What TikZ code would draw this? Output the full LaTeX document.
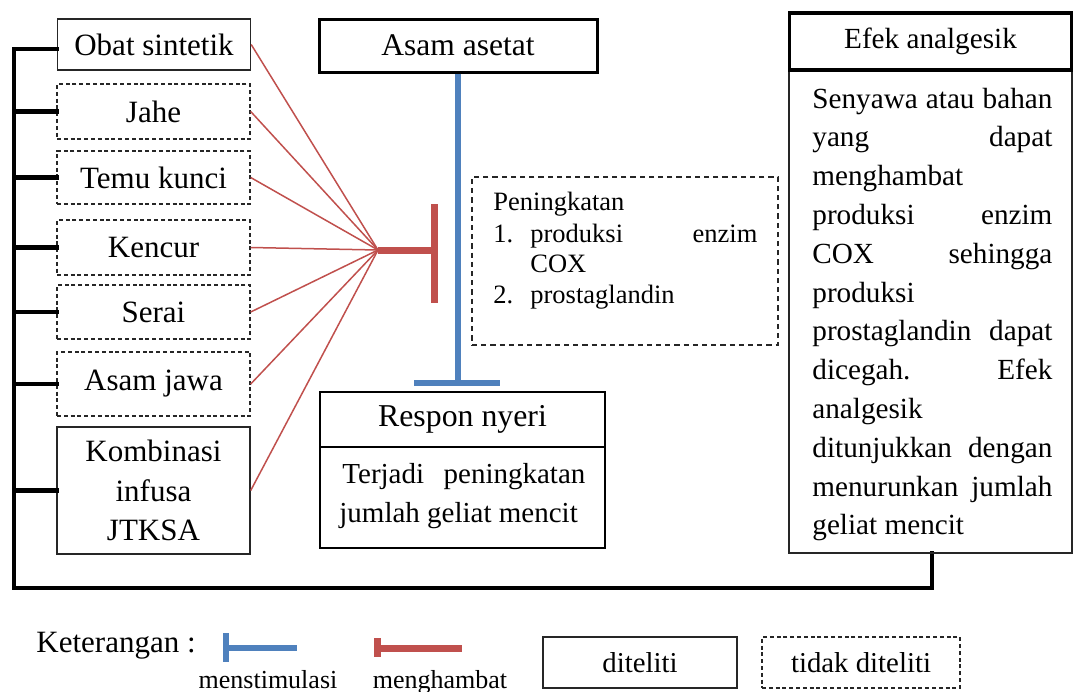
\documentclass[tikz,border=0pt]{standalone}
\usepackage{fontspec}
\setmainfont{Liberation Serif}
\definecolor{inhred}{HTML}{C0504D}
\definecolor{stimblue}{HTML}{4F81BD}
\begin{document}
\begin{tikzpicture}[x=0.5pt,y=-0.5pt,
  thinbox/.style={draw=black!85, line width=0.7pt, inner sep=0pt, minimum width=96.5pt,
    font=\fontsize{15.5}{19.75}\selectfont, align=center},
  dashbox/.style={thinbox, dash pattern=on 2pt off 1.4pt},
  headbox/.style={draw=black, inner sep=0pt, fill=white},
  txt/.style={inner sep=0pt, anchor=base west},
  bus/.style={draw=black, line width=2.2pt, line join=miter, line cap=rect},
  inhline/.style={draw=inhred, line width=0.75pt},
  inhthick/.style={draw=inhred, line width=3.5pt},
  stimthick/.style={draw=stimblue, line width=2.6pt}
]
\useasboundingbox (0,0) rectangle (1074,691);

% left boxes
\node[thinbox, minimum height=25.5pt] (obat) at (154,44.5) {Obat sintetik};
\node[dashbox, minimum height=27.5pt] (jahe) at (153.5,111.5) {Jahe};
\node[dashbox, minimum height=26.5pt] (temu) at (153.5,177.5) {Temu kunci};
\node[dashbox, minimum height=27.5pt] (kencur) at (153.5,247.5) {Kencur};
\node[dashbox, minimum height=27pt] (serai) at (153.5,312) {Serai};
\node[dashbox, minimum height=32pt] (asamjawa) at (153.5,384) {Asam jawa};
\node[thinbox, minimum height=63.5pt] (kombinasi) at (153.5,490.5) {Kombinasi\\infusa\\JTKSA};

% bus
\coordinate (busbot) at (14,588);
\draw[bus] ([yshift=-2.25pt]obat.west) -| (busbot) -| (932,553);
\foreach \n in {jahe,temu,kencur,serai,asamjawa,kombinasi}
  \draw[bus] (\n.west) -- (\n.west -| busbot);

% red inhibition from all boxes
\coordinate (hub) at (378,250);
\coordinate (hubend) at (434,250);
\coordinate (bartop) at (434,204);
\coordinate (barbot) at (434,303);
\foreach \n in {obat,jahe,temu,kencur,serai,asamjawa,kombinasi}
  \draw[inhline] (\n.east) -- (hub);
\draw[inhthick] (hub) -- (hubend);
\draw[inhthick] (bartop) -- (barbot);

% Asam asetat
\node[headbox, line width=1.5pt, minimum width=139pt, minimum height=26.5pt,
  font=\fontsize{15.75}{19}\selectfont] (asetat) at (458,45.5) {Asam asetat};
\coordinate (stimend) at (458,383);
\coordinate (stimL) at (414,383);
\coordinate (stimR) at (500,383);
\draw[stimthick] (asetat.south) -- (stimend);
\draw[stimthick] (stimL) -- (stimR);

% Peningkatan box
\node[draw=black!85, line width=1pt, dash pattern=on 2.6pt off 2pt, inner sep=0pt,
  minimum width=153pt, minimum height=84pt] (pening) at (625,261) {};
\begin{scope}[every node/.style={txt, font=\fontsize{13.25}{15}\selectfont}]
\node (p0) at (493,210) {Peningkatan};
\node (p1n) at (493,242) {1.};
\node (p1) at (530,242) {\makebox[113.5pt][s]{produksi enzim}};
\node (p1b) at (530,272) {COX};
\node (p2n) at (493,303) {2.};
\node (p2) at (530,303) {prostaglandin};
\end{scope}

% Respon nyeri
\node[draw=black, line width=1pt, inner sep=0pt, minimum width=142.5pt, minimum height=50.5pt] (responbody) at (462.5,497.5) {};
\node[headbox, line width=1.3pt, minimum width=142.5pt, minimum height=27.5pt,
  font=\fontsize{15.9}{19}\selectfont] (respon) at (462.5,419.5) {Respon nyeri};
\begin{scope}[every node/.style={txt, font=\fontsize{14.5}{18.5}\selectfont}]
\node (r1) at (342,483) {\makebox[121.5pt][s]{Terjadi\ \ peningkatan}};
\node (r2) at (339,522) {jumlah geliat mencit};
\end{scope}

% Efek analgesik
\node[draw=black!85, line width=0.75pt, inner sep=0pt, minimum width=141.5pt, minimum height=241.5pt] (efekbody) at (930.5,311.5) {};
\node[headbox, line width=1.9pt, minimum width=141pt, minimum height=28.5pt,
  font=\fontsize{14.6}{18}\selectfont] (efek) at (930.5,41.5) {Efek analgesik};
\foreach \t/\m [count=\i] in {Senyawa atau bahan/s,yang dapat/s,menghambat/l,produksi enzim/s,COX sehingga/s,produksi/l,prostaglandin dapat/s,dicegah. Efek/s,analgesik/l,ditunjukkan dengan/s,menurunkan jumlah/s,geliat mencit/l}
  \node[txt, font=\fontsize{14.6}{18}\selectfont] (ef\i) at (812,{108+(\i-1)*38.8}) {\makebox[120pt][\m]{\t}};

% legend
\node[txt, font=\fontsize{15.5}{18}\selectfont] (ket) at (36,652) {Keterangan :};
\coordinate (lbT) at (226,633);
\coordinate (lbB) at (226,662);
\coordinate (lbM) at (226,648);
\coordinate (lbE) at (297,648);
\draw[stimthick] (lbT) -- (lbB);
\draw[stimthick] (lbM) -- (lbE);
\coordinate (lrT) at (377,638);
\coordinate (lrB) at (377,657);
\coordinate (lrM) at (377,648);
\coordinate (lrE) at (462,648);
\draw[inhthick] (lrT) -- (lrB);
\draw[inhthick] (lrM) -- (lrE);
\node[inner sep=0pt, anchor=base, font=\fontsize{13}{15}\selectfont] (lstim) at (268,688) {menstimulasi};
\node[inner sep=0pt, anchor=base, font=\fontsize{13}{15}\selectfont] (lhamb) at (440,688) {menghambat};
\node[thinbox, minimum width=97pt, minimum height=25.5pt, font=\fontsize{14.4}{17}\selectfont] (ldit) at (640,662.5) {diteliti};
\node[dashbox, minimum width=99pt, minimum height=25.5pt, font=\fontsize{14.4}{17}\selectfont] (ltdk) at (861,662.5) {tidak diteliti};
\end{tikzpicture}
\end{document}
